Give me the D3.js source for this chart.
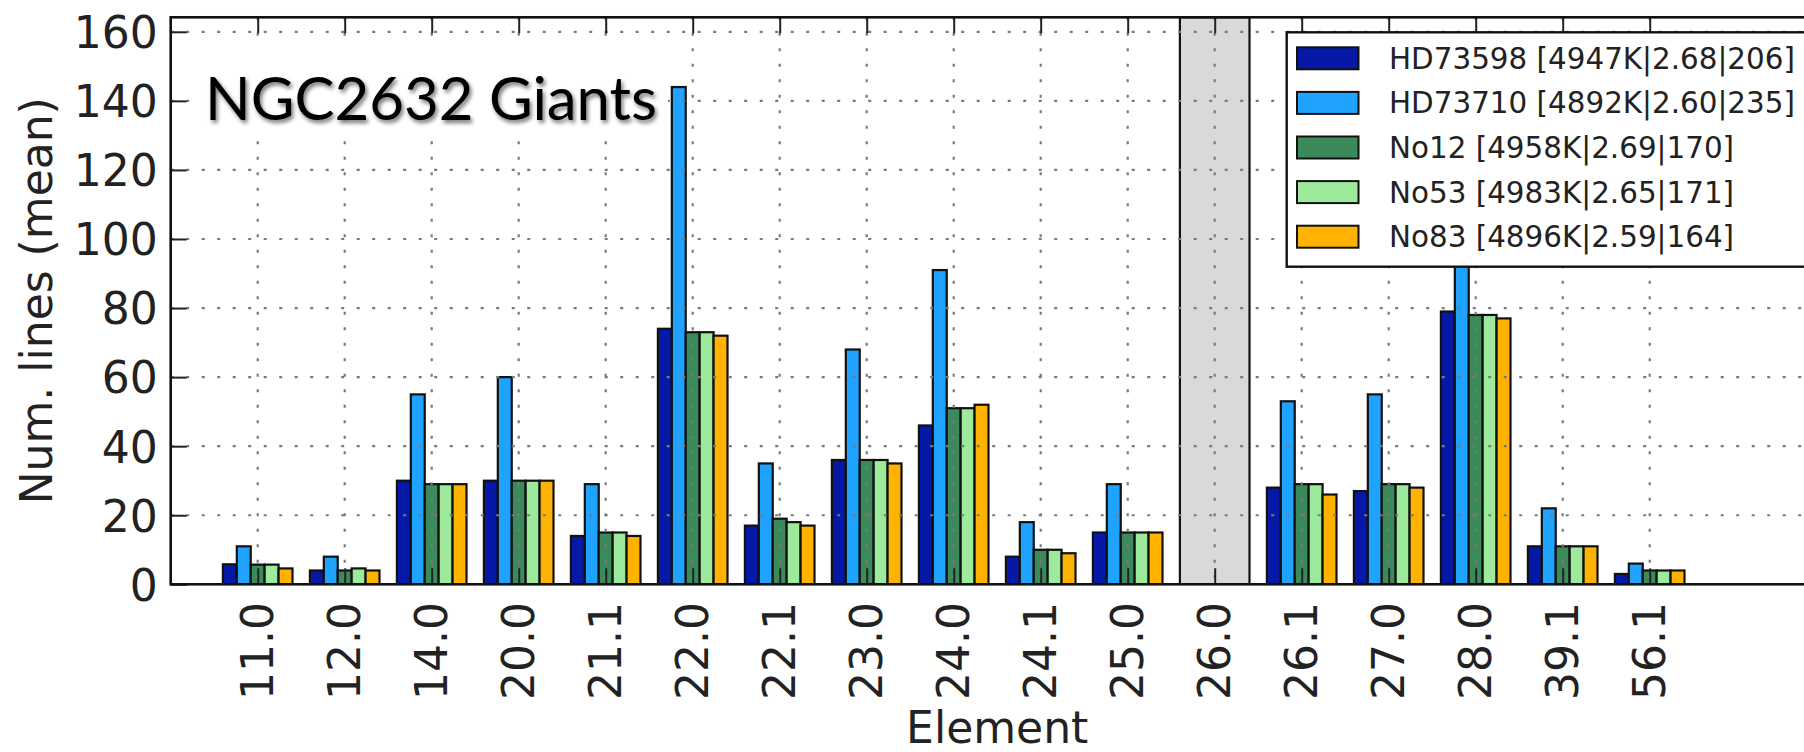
<!DOCTYPE html>
<html>
<head>
<meta charset="utf-8">
<script src="https://cdn.jsdelivr.net/npm/d3@7"></script>
<style>
  html, body { margin: 0; padding: 0; background: #fff; }
  svg { display: block; }
</style>
</head>
<body>
<svg id="chart" width="1804" height="752"></svg>
<script>
// Element / ionisation-stage labels (x axis)
const categories = ["11.0","12.0","14.0","20.0","21.1","22.0","22.1","23.0","24.0","24.1","25.0","26.0","26.1","27.0","28.0","39.1","56.1"];

// Mean number of lines per species for each star (Fe I, 26.0, left out)
const hd73598 = [5.8, 4, 30, 30, 14, 74, 17, 36, 46, 8, 15, null, 28, 27, 79, 11, 3];
const hd73710 = [11, 8, 55, 60, 29, 144, 35, 68, 91, 18, 29, null, 53, 55, 150, 22, 6];
const no12    = [5.7, 4, 29, 30, 15, 73, 19, 36, 51, 10, 15, null, 29, 29, 78, 11, 4];
const no53    = [5.7, 4.6, 29, 30, 15, 73, 18, 36, 51, 10, 15, null, 29, 29, 78, 11, 4];
const no83    = [4.6, 4, 29, 30, 14, 72, 17, 35, 52, 9, 15, null, 26, 28, 77, 11, 4];

const seriesNames  = ["HD73598 [4947K|2.68|206]", "HD73710 [4892K|2.60|235]", "No12 [4958K|2.69|170]", "No53 [4983K|2.65|171]", "No83 [4896K|2.59|164]"];
const seriesColors = ["#0519a6", "#1fa3ff", "#3c8a5b", "#9dea9d", "#ffb300"];
const seriesValues = [hd73598, hd73710, no12, no53, no83];

const yTicks = [0, 20, 40, 60, 80, 100, 120, 140, 160];
const excludedCategory = "26.0";
const titleText = "NGC2632 Giants";

const svg = d3.select("#chart");
svg.append("rect").attr("width", 1804).attr("height", 752).attr("fill", "#fff");

// Axes frame
const axL = 170.7, axR = 1823.7, axT = 17.3, axB = 584.3;
const x = d3.scaleLinear().domain([-1, 18]).range([axL, axR]);
const y = d3.scaleLinear().domain([0, 164.2]).range([axB, axT]);
const barW = 0.16;
const idx = d3.range(categories.length);

const defs = svg.append("defs");
defs.append("clipPath").attr("id", "plotclip")
  .append("rect").attr("x", axL).attr("y", axT).attr("width", axR - axL).attr("height", axB - axT);

const shadow = defs.append("filter").attr("id", "titleShadow")
  .attr("x", "-5%").attr("y", "-20%").attr("width", "115%").attr("height", "150%");
shadow.append("feGaussianBlur").attr("in", "SourceAlpha").attr("stdDeviation", 2.2).attr("result", "b");
shadow.append("feOffset").attr("in", "b").attr("dx", 1.5).attr("dy", 2.5).attr("result", "o");
shadow.append("feComponentTransfer").attr("in", "o").attr("result", "s")
  .append("feFuncA").attr("type", "linear").attr("slope", 0.55);
const merge = shadow.append("feMerge");
merge.append("feMergeNode").attr("in", "s");
merge.append("feMergeNode").attr("in", "SourceGraphic");

const plot = svg.append("g").attr("clip-path", "url(#plotclip)");

// Shaded span for the excluded species
const exI = categories.indexOf(excludedCategory);
plot.append("rect")
  .attr("x", x(exI - 0.4)).attr("y", axT)
  .attr("width", x(exI + 0.4) - x(exI - 0.4)).attr("height", axB - axT)
  .attr("fill", "#d9d9d9").attr("stroke", "#111").attr("stroke-width", 2.2);

// Grouped bars
seriesValues.forEach((vals, k) => {
  plot.append("g").selectAll("rect")
    .data(vals.map((v, i) => ({ v, i })).filter(d => d.v != null))
    .join("rect")
    .attr("x", d => x(d.i + (k - 2.5) * barW))
    .attr("width", x(barW) - x(0))
    .attr("y", d => y(d.v))
    .attr("height", d => y(0) - y(d.v))
    .attr("fill", seriesColors[k])
    .attr("stroke", "#111")
    .attr("stroke-width", 2.2);
});

// Dotted grid drawn above the bars
const grid = plot.append("g").attr("stroke", "#7a7a7a").attr("stroke-width", 2.2)
  .attr("stroke-dasharray", "3,12.5");
grid.selectAll("line.h").data(yTicks.slice(1)).join("line").attr("class", "h")
  .attr("x1", axL).attr("x2", axR).attr("y1", d => y(d)).attr("y2", d => y(d));
grid.selectAll("line.v").data(idx).join("line").attr("class", "v")
  .attr("x1", d => x(d)).attr("x2", d => x(d)).attr("y1", axT).attr("y2", axB);

// Axes with inward ticks
const tickLen = 16;
const fontTick = 44;
const yAxis = svg.append("g").attr("transform", `translate(${axL},0)`)
  .call(d3.axisLeft(y).tickValues(yTicks).tickSize(-tickLen).tickPadding(13));
const xAxisB = svg.append("g").attr("transform", `translate(0,${axB})`)
  .call(d3.axisBottom(x).tickValues(idx).tickSize(-tickLen).tickFormat(""));
const xAxisT = svg.append("g").attr("transform", `translate(0,${axT})`)
  .call(d3.axisTop(x).tickValues(idx).tickSize(-tickLen).tickFormat(""));
[yAxis, xAxisB, xAxisT].forEach(a => {
  a.select(".domain").remove();
  a.selectAll(".tick line").attr("stroke", "#222").attr("stroke-width", 2);
});
yAxis.selectAll(".tick text")
  .attr("font-family", "DejaVu Sans").attr("font-size", fontTick).attr("fill", "#222")
  .attr("dy", "0.36em");

// Rotated category labels
svg.append("g").selectAll("text").data(idx).join("text")
  .attr("transform", d => `translate(${x(d) + 15},602) rotate(-90)`)
  .attr("text-anchor", "end")
  .attr("font-family", "DejaVu Sans").attr("font-size", fontTick).attr("fill", "#222")
  .text(d => categories[d]);

// Frame
svg.append("rect").attr("x", axL).attr("y", axT)
  .attr("width", axR - axL).attr("height", axB - axT)
  .attr("fill", "none").attr("stroke", "#111").attr("stroke-width", 2.6);

// Axis titles
svg.append("text")
  .attr("transform", `translate(52,${(axT + axB) / 2}) rotate(-90)`)
  .attr("text-anchor", "middle")
  .attr("font-family", "DejaVu Sans").attr("font-size", 44).attr("fill", "#222")
  .text("Num. lines (mean)");
svg.append("text")
  .attr("x", (axL + axR) / 2).attr("y", 743)
  .attr("text-anchor", "middle")
  .attr("font-family", "DejaVu Sans").attr("font-size", 44).attr("fill", "#222")
  .text("Element");

// Title label on a white box
svg.append("rect").attr("x", 192).attr("y", 48).attr("width", 476).attr("height", 86).attr("fill", "#fff");
svg.append("text")
  .attr("x", 205).attr("y", 120)
  .attr("font-family", "Lato").attr("font-size", 60).attr("fill", "#000")
  .attr("textLength", 452).attr("lengthAdjust", "spacingAndGlyphs")
  .attr("filter", "url(#titleShadow)")
  .text(titleText);

// Legend
const lg = svg.append("g");
lg.append("rect").attr("x", 1286.7).attr("y", 32.3).attr("width", 530).attr("height", 234.4)
  .attr("fill", "#fff").attr("stroke", "#111").attr("stroke-width", 2.4);
const rows = lg.selectAll("g.row").data(seriesNames).join("g").attr("class", "row")
  .attr("transform", (d, i) => `translate(0,${58.3 + i * 44.6})`);
rows.append("rect").attr("x", 1297).attr("y", -11).attr("width", 61.5).attr("height", 22)
  .attr("fill", (d, i) => seriesColors[i]).attr("stroke", "#111").attr("stroke-width", 2);
rows.append("text").attr("x", 1389).attr("y", 10.5)
  .attr("font-family", "DejaVu Sans").attr("font-size", 29.4).attr("fill", "#222")
  .text(d => d);
</script>
</body>
</html>
